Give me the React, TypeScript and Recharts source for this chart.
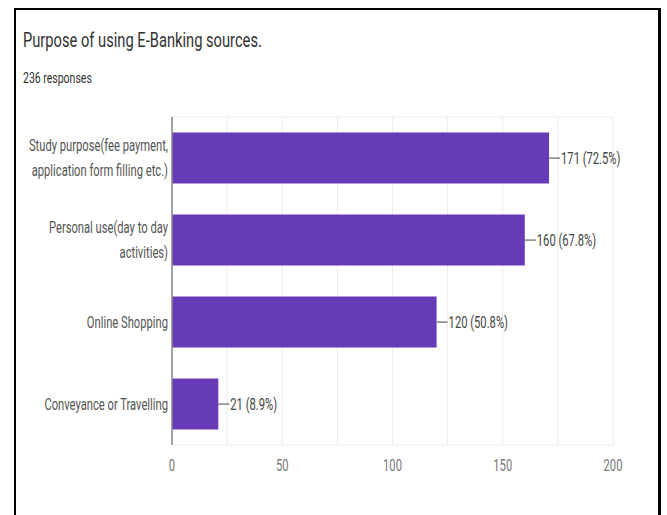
import React from "react";
import {
  BarChart,
  Bar,
  XAxis,
  YAxis,
  CartesianGrid,
  LabelList,
} from "recharts";

const CATEGORIES = [
  "Study purpose(fee payment, application form filling etc.)",
  "Personal use(day to day activities)",
  "Online Shopping",
  "Conveyance or Travelling",
];
const COUNTS = [171, 160, 120, 21];
const PERCENTS = ["72.5%", "67.8%", "50.8%", "8.9%"];
const GRID_TICKS = [0, 25, 50, 75, 100, 125, 150, 175, 200];
const LABELED_TICKS = [0, 50, 100, 150, 200];

const TITLE = "Purpose of using E-Banking sources.";
const SUBTITLE = "236 responses";

const data = CATEGORIES.map((name, i) => ({ name, count: COUNTS[i], pct: PERCENTS[i] }));

// the screenshot is squeezed sideways, so all text is narrowed
const SQUEEZE = 0.7;
const FONT = "Roboto, 'Noto Sans', sans-serif";

function wrap(text: string, maxChars = 30) {
  const words = text.split(" ");
  const lines: string[] = [];
  let cur = "";
  words.forEach((w) => {
    const next = cur ? cur + " " + w : w;
    if (next.length > maxChars && cur) {
      lines.push(cur);
      cur = w;
    } else {
      cur = next;
    }
  });
  if (cur) lines.push(cur);
  return lines;
}

const CategoryTick = (props: any) => {
  const { x, y, payload } = props;
  const lines = wrap(String(payload.value));
  const start = -((lines.length - 1) * 25) / 2;
  return (
    <g transform={`translate(${x},${y})`}>
      <text transform={`scale(${SQUEEZE},1)`} textAnchor="end" fill="#555" fontSize={16} fontFamily={FONT}>
        {lines.map((l, i) => (
          <tspan key={i} x={0} y={start + i * 25} dy="0.355em">
            {l}
          </tspan>
        ))}
      </text>
    </g>
  );
};

const ValueTick = (props: any) => {
  const { x, y, payload } = props;
  if (!LABELED_TICKS.includes(payload.value)) return <g />;
  return (
    <g transform={`translate(${x},${y})`}>
      <text transform={`scale(${SQUEEZE},1)`} textAnchor="middle" fill="#777" fontSize={16} fontFamily={FONT} dy="0.71em">
        {payload.value}
      </text>
    </g>
  );
};

const BarValue = (props: any) => {
  const { x, y, width, height, index } = props;
  const ex = Number(x) + Number(width);
  const cy = Number(y) + Number(height) / 2;
  const d = data[index];
  return (
    <g>
      <line x1={ex} x2={ex + 11} y1={cy} y2={cy} stroke="#444" strokeWidth={1} />
      <g transform={`translate(${ex + 12},${cy})`}>
        <text transform={`scale(${SQUEEZE},1)`} fill="#444" fontSize={16} fontFamily={FONT} dy="0.355em">
          {`${d.count} (${d.pct})`}
        </text>
      </g>
    </g>
  );
};

export default function App() {
  return (
    <div
      style={{
        position: "absolute",
        left: 0,
        top: 0,
        width: 667,
        height: 515,
        overflow: "hidden",
        background: "#fff",
      }}
    >
      <div
        style={{
          position: "absolute",
          left: 14,
          top: 8,
          width: 642,
          height: 600,
          borderLeft: "2px solid #000",
          borderTop: "2px solid #000",
          borderRight: "3px solid #000",
        }}
      />
      <svg width={667} height={110} style={{ position: "absolute", left: 0, top: 0 }}>
        <g transform="translate(23,46.5)">
          <text transform={`scale(${SQUEEZE},1)`} fontSize={21} fill="#333" fontFamily={FONT}>
            {TITLE}
          </text>
        </g>
        <g transform="translate(23,83)">
          <text transform={`scale(${SQUEEZE},1)`} fontSize={15} fill="#333" fontFamily={FONT}>
            {SUBTITLE}
          </text>
        </g>
      </svg>
      <div style={{ position: "absolute", left: 0, top: 0 }}>
        <BarChart
          width={667}
          height={515}
          data={data}
          layout="vertical"
          margin={{ top: 117, right: 54, bottom: 40, left: 12 }}
          barCategoryGap="19%"
        >
          <CartesianGrid
            stroke="#ececec"
            horizontalCoordinatesGenerator={({ offset }: any) => [offset.top, offset.top + offset.height]}
          />
          <XAxis
            type="number"
            domain={[0, 200]}
            ticks={GRID_TICKS}
            interval={0}
            axisLine={false}
            tickLine={false}
            tickSize={0}
            tickMargin={15}
            height={30}
            tick={<ValueTick />}
          />
          <YAxis
            type="category"
            dataKey="name"
            width={160}
            axisLine={{ stroke: "#888", strokeWidth: 1.5 }}
            tickLine={false}
            tickSize={0}
            tickMargin={4}
            interval={0}
            tick={<CategoryTick />}
          />
          <Bar dataKey="count" fill="#673ab7" isAnimationActive={false}>
            <LabelList dataKey="count" content={<BarValue />} />
          </Bar>
        </BarChart>
      </div>
    </div>
  );
}
